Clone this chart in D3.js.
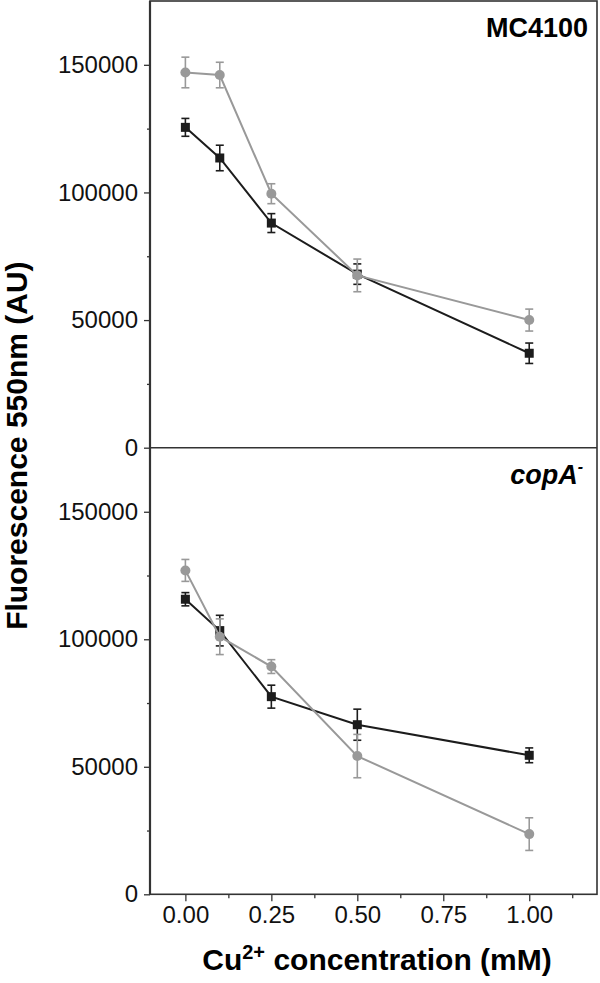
<!DOCTYPE html>
<html>
<head>
<meta charset="utf-8">
<script src="https://cdn.jsdelivr.net/npm/d3@7"></script>
<style>
  body { margin: 0; background: #fff; }
  svg { display: block; font-family: "Liberation Sans", Arial, sans-serif; }
</style>
</head>
<body>
<svg id="chart" width="600" height="983"></svg>
<script>
// ---- data ----
const conc = [0, 0.1, 0.25, 0.5, 1.0];
const xMajorTicks = [0, 0.25, 0.5, 0.75, 1.0];
const xMinorTicks = [0.125, 0.375, 0.625, 0.875, 1.125];
const yMajorTicks = [0, 50000, 100000, 150000];
const yMinorTicks = [25000, 75000, 125000];
const panelLabels = ["MC4100", "copA"];

const mcBlack    = [125500, 113500, 88000, 68000, 37000];
const mcBlackErr = [3500, 5000, 3700, 4000, 4000];
const mcGrey     = [147000, 146000, 99500, 67500, 50000];
const mcGreyErr  = [6000, 5000, 3900, 6400, 4300];

const copBlack    = [115700, 103400, 77500, 66500, 54500];
const copBlackErr = [2600, 6000, 4500, 6100, 2900];
const copGrey     = [127000, 101000, 89300, 54200, 23600];
const copGreyErr  = [4300, 7000, 2700, 8500, 6400];

// ---- layout ----
const svg = d3.select("#chart");
const left = 150, right = 597;
const x = d3.scaleLinear().domain([-0.1, 1.2]).range([left + 1, right + 1]);
const panels = [
  { top: 1, bottom: 447.7, black: mcBlack, blackErr: mcBlackErr, grey: mcGrey, greyErr: mcGreyErr },
  { top: 448, bottom: 894.3, black: copBlack, blackErr: copBlackErr, grey: copGrey, greyErr: copGreyErr }
];
const axisColor = "#333";
const blackCol = "#1c1c1c";
const greyCol = "#999999";

panels.forEach((p, i) => {
  const y = d3.scaleLinear().domain([0, 175000]).range([p.bottom, p.top]);
  p.y = y;
  const gMin = svg.append("g").attr("transform", `translate(${left},0)`)
    .call(d3.axisLeft(y).tickValues(yMinorTicks).tickSize(3).tickFormat(""));
  gMin.select(".domain").remove();
  gMin.selectAll("line").attr("stroke", axisColor).attr("stroke-width", 1.3);
  const gMaj = svg.append("g").attr("transform", `translate(${left},0)`)
    .call(d3.axisLeft(y).tickValues(yMajorTicks).tickSize(6).tickPadding(6).tickFormat(d3.format("d")));
  gMaj.select(".domain").remove();
  gMaj.selectAll("line").attr("stroke", axisColor).attr("stroke-width", 1.3);
  gMaj.selectAll("text").attr("font-size", 24).attr("fill", "#111")
    .attr("font-family", "Liberation Sans, Arial, sans-serif");
});

// x axis (bottom)
const yb = panels[1].bottom;
const gxMin = svg.append("g").attr("transform", `translate(0,${yb})`)
  .call(d3.axisBottom(x).tickValues(xMinorTicks).tickSize(4).tickFormat(""));
gxMin.select(".domain").remove();
gxMin.selectAll("line").attr("stroke", axisColor).attr("stroke-width", 1.3);
const gx = svg.append("g").attr("transform", `translate(0,${yb})`)
  .call(d3.axisBottom(x).tickValues(xMajorTicks).tickSize(7).tickPadding(5).tickFormat(d3.format(".2f")));
gx.select(".domain").remove();
gx.selectAll("line").attr("stroke", axisColor).attr("stroke-width", 1.3);
gx.selectAll("text").attr("font-size", 24).attr("fill", "#111")
  .attr("font-family", "Liberation Sans, Arial, sans-serif");

// frame lines
svg.append("rect").attr("x", left).attr("y", 1).attr("width", right - left).attr("height", yb - 1)
  .attr("fill", "none").attr("stroke", axisColor).attr("stroke-width", 1.6);
svg.append("line").attr("x1", left).attr("x2", right).attr("y1", panels[0].bottom).attr("y2", panels[0].bottom)
  .attr("stroke", axisColor).attr("stroke-width", 1.6);
svg.append("line").attr("x1", left).attr("x2", left).attr("y1", 1).attr("y2", yb)
  .attr("stroke", axisColor).attr("stroke-width", 2.2);

// series
function drawSeries(p, vals, errs, color, shape) {
  const y = p.y;
  const g = svg.append("g");
  const pts = conc.map((c, k) => ({ c, v: vals[k], e: errs[k] }));
  g.append("path").datum(pts)
    .attr("d", d3.line().x(d => x(d.c)).y(d => y(d.v)))
    .attr("fill", "none").attr("stroke", color).attr("stroke-width", 2);
  const eb = g.selectAll(".eb").data(pts).enter().append("g");
  eb.append("line").attr("x1", d => x(d.c)).attr("x2", d => x(d.c))
    .attr("y1", d => y(d.v + d.e)).attr("y2", d => y(d.v - d.e))
    .attr("stroke", color).attr("stroke-width", 1.6);
  [1, -1].forEach(s => {
    eb.append("line").attr("x1", d => x(d.c) - 4).attr("x2", d => x(d.c) + 4)
      .attr("y1", d => y(d.v + s * d.e)).attr("y2", d => y(d.v + s * d.e))
      .attr("stroke", color).attr("stroke-width", 1.6);
  });
  if (shape === "square") {
    g.selectAll(".m").data(pts).enter().append("rect")
      .attr("x", d => x(d.c) - 4.5).attr("y", d => y(d.v) - 4.5)
      .attr("width", 9).attr("height", 9).attr("fill", color);
  } else {
    g.selectAll(".m").data(pts).enter().append("circle")
      .attr("cx", d => x(d.c)).attr("cy", d => y(d.v)).attr("r", 5).attr("fill", color);
  }
}
panels.forEach(p => {
  drawSeries(p, p.black, p.blackErr, blackCol, "square");
  drawSeries(p, p.grey, p.greyErr, greyCol, "circle");
});

// panel labels
svg.append("text").attr("x", 588).attr("y", 37).attr("text-anchor", "end")
  .attr("font-size", 27).attr("font-weight", "bold").attr("fill", "#000").text(panelLabels[0]);
const t2 = svg.append("text").attr("x", 583).attr("y", 484).attr("text-anchor", "end")
  .attr("font-size", 27).attr("font-weight", "bold").attr("font-style", "italic").attr("fill", "#000");
t2.append("tspan").text(panelLabels[1]);
t2.append("tspan").attr("dy", -12).attr("font-size", 16).text("-");

// axis titles
svg.append("text")
  .attr("transform", `translate(27,${(1 + yb) / 2 - 2}) rotate(-90)`)
  .attr("text-anchor", "middle").attr("font-size", 30).attr("font-weight", "bold").attr("fill", "#000")
  .text("Fluorescence 550nm (AU)");
const xt = svg.append("text").attr("x", 377).attr("y", 970).attr("text-anchor", "middle")
  .attr("font-size", 30).attr("font-weight", "bold").attr("fill", "#000");
xt.append("tspan").text("Cu");
xt.append("tspan").attr("dy", -11).attr("font-size", 20).text("2+");
xt.append("tspan").attr("dy", 11).text(" concentration (mM)");
</script>
</body>
</html>
